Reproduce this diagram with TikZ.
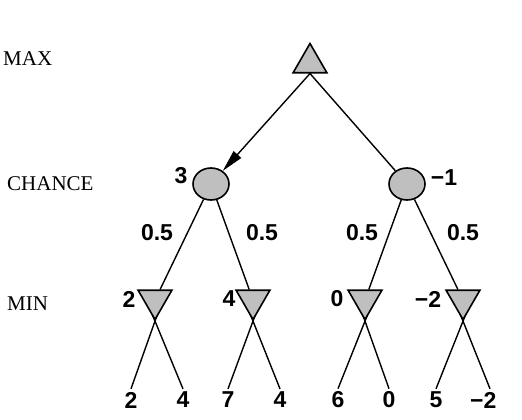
\documentclass[tikz,border=0pt]{standalone}
\usepackage{fontspec}
\setmainfont{Liberation Serif}
\setsansfont{Liberation Sans}
\usetikzlibrary{shapes.geometric,arrows.meta,calc,backgrounds}

\begin{document}
\begin{tikzpicture}[x=1pt,y=-1pt]
    \tikzstyle{link}=[draw=black,line width=1.4pt]
    \tikzstyle{tri}=[regular polygon,regular polygon sides=3,draw=black,fill=black!25,line width=1.6pt,minimum size=39pt,inner sep=0pt]
    \tikzstyle{max node}=[tri]
    \tikzstyle{min node}=[tri,shape border rotate=180]
    \tikzstyle{chance node}=[ellipse,draw=black,fill=black!25,line width=1.6pt,minimum width=36pt,minimum height=32pt,inner sep=0pt]
    \tikzstyle{num}=[font=\sffamily\bfseries\fontsize{23}{27}\selectfont,inner sep=3pt]
    \tikzstyle{annot}=[font=\fontsize{21}{25}\selectfont,anchor=west,inner sep=0pt]

    \useasboundingbox (0,0) rectangle (522,420);

    % Draw the tree nodes
    \node[max node] (MAX) at (310,63) {};
    \node[chance node] (C-1) at (211,184) {};
    \node[chance node] (C-2) at (407,184) {};
    \foreach \name / \x in {1/155,2/253,3/365,4/463}
        \node[min node] (M-\name) at (\x,300) {};
    \foreach \name / \x / \v in {1/131/2,2/183/4,3/228/7,4/280/4,5/338/6,6/389/0,7/436/5,8/490/{\llap{−}2}}
        \node[num] (L-\name) at (\x,400) {\v};

    % Edges behind the nodes
    \begin{scope}[on background layer]
    \draw[link,-{Triangle[length=22pt,width=10pt]}] ($(MAX.south)!-0.06!(C-1)$) -- (C-1);
    \draw[link] ($(MAX.south)!-0.06!(C-2)$) -- (C-2);
    \path[link] (C-1) edge (M-1);
    \path[link] (C-1) edge (M-2);
    \path[link] (C-2) edge (M-3);
    \path[link] (C-2) edge (M-4);
    \foreach \m / \a / \b in {1/1/2,2/3/4,3/5/6,4/7/8} {
        \draw[link] (L-\a.north) -- ($(M-\m.south)!-0.3!(L-\a.north)$);
        \draw[link] (L-\b.north) -- ($(M-\m.south)!-0.3!(L-\b.north)$);
    }
    \end{scope}

    % Backed-up values
    \node[num] (V-C1) at (181,176) {3};
    \node[num] (V-C2) at (444,178) {−1};
    \node[num] (V-M1) at (129,299) {2};
    \node[num] (V-M2) at (229,299) {4};
    \node[num] (V-M3) at (337,299) {0};
    \node[num] (V-M4) at (428,299) {−2};

    % Probabilities
    \node[num] (P-1) at (157,233) {0.5};
    \node[num] (P-2) at (262,233) {0.5};
    \node[num] (P-3) at (362,233) {0.5};
    \node[num] (P-4) at (463,233) {0.5};

    % Annotate the levels
    \node[annot] (lvl-max) at (3,59) {MAX};
    \node[annot] (lvl-chance) at (7,184) {CHANCE};
    \node[annot] (lvl-min) at (7,304) {MIN};
\end{tikzpicture}
\end{document}
